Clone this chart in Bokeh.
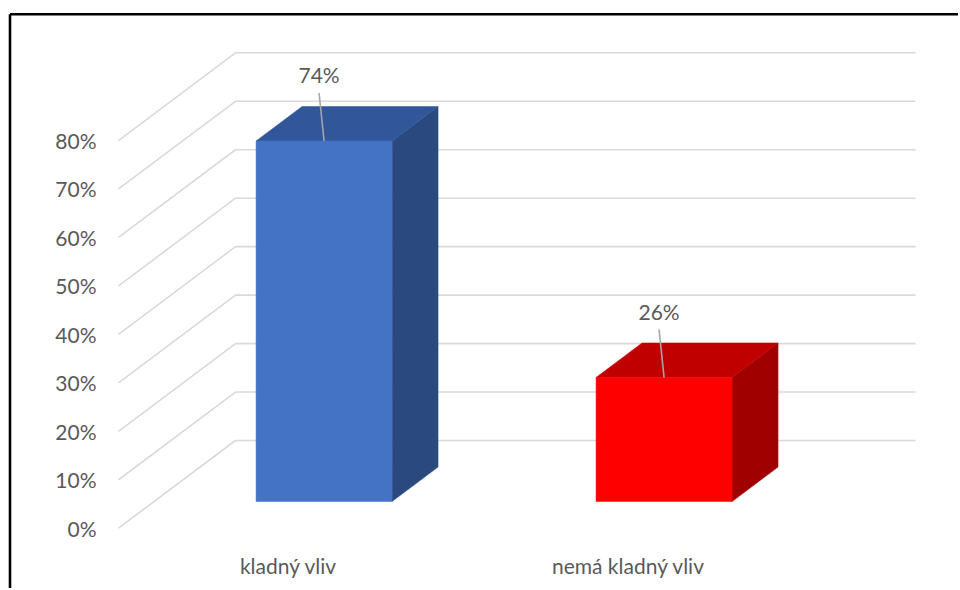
from bokeh.plotting import figure
from bokeh.models import Range1d
from bokeh.embed import file_html
from bokeh.resources import INLINE
from bokeh.core.properties import value

# ---------------- data ----------------
categories = ["kladný vliv", "nemá kladný vliv"]
values = [74.4, 25.6]
value_labels = ["74%", "26%"]
ticks = [0, 10, 20, 30, 40, 50, 60, 70, 80]
tick_labels = ["0%", "10%", "20%", "30%", "40%", "50%", "60%", "70%", "80%"]

front_colors = ["#4472C4", "#FF0000"]
top_colors = ["#31569A", "#C00000"]
side_colors = ["#2A4A7F", "#A00000"]

# ---------------- geometry / style ----------------
W, H = 958, 588
ORIGIN = 0       # page offset of the canvas
FX0 = 118.0      # page x of front-left floor corner
FY0 = 527.7      # page y of front 0%
CAT_PX = 340.0   # px per category
PCT_PX = 4.846   # px per percent
DEPTH_DX = 117.0
DEPTH_DY = 87.7
DX_U = DEPTH_DX / CAT_PX
DY_V = DEPTH_DY / PCT_PX
Z_FRONT, Z_BACK = 0.304, 0.697
HALF_W = 0.2
FONT = "Lato"
TXT = "#595959"
GRID = "#D9D9D9"


def px_u(dx):
    return dx / CAT_PX


def px_v(dy):
    return dy / PCT_PX


def proj(u, v, z):
    return u + z * DX_U, v + z * DY_V


x0 = (ORIGIN - FX0) / CAT_PX
x1 = (ORIGIN + W - FX0) / CAT_PX
y1 = (FY0 - ORIGIN) / PCT_PX
y0 = (FY0 - (ORIGIN + H)) / PCT_PX

p = figure(width=W, height=H, output_backend="svg", toolbar_location=None,
           x_range=Range1d(x0, x1), y_range=Range1d(y0, y1),
           min_border=0, x_axis_location=None, y_axis_location=None)
p.grid.visible = False
p.outline_line_color = None
p.background_fill_color = "white"
p.border_fill_color = "white"

# ---- gridlines: floor diagonals + back wall ----
n_cat = len(categories)
dxs, dys = [], []
for t in ticks:
    a = proj(0, t, 0)
    b = proj(0, t, 1)
    c = proj(n_cat, t, 1)
    dxs.append([a[0], b[0], c[0]])
    dys.append([a[1], b[1], c[1]])
p.multi_line(dxs, dys, line_color=GRID, line_width=1.6)

# ---- bars ----
for i, (val, cf, ct, cs) in enumerate(zip(values, front_colors, top_colors, side_colors)):
    c = i + 0.5
    l, r = c - HALF_W, c + HALF_W
    fl_b = proj(l, 0, Z_FRONT)
    fr_b = proj(r, 0, Z_FRONT)
    fl_t = proj(l, val, Z_FRONT)
    fr_t = proj(r, val, Z_FRONT)
    bl_t = proj(l, val, Z_BACK)
    br_t = proj(r, val, Z_BACK)
    br_b = proj(r, 0, Z_BACK)
    # side face
    p.patch([fr_b[0], fr_t[0], br_t[0], br_b[0]], [fr_b[1], fr_t[1], br_t[1], br_b[1]],
            fill_color=cs, line_color=cs, line_width=0.5)
    # top face
    p.patch([fl_t[0], fr_t[0], br_t[0], bl_t[0]], [fl_t[1], fr_t[1], br_t[1], bl_t[1]],
            fill_color=ct, line_color=ct, line_width=0.5)
    # front face
    p.quad(left=fl_b[0], right=fr_b[0], bottom=fl_b[1], top=fl_t[1],
           fill_color=cf, line_color=cf, line_width=0.5)
    # data label with leader line
    fc = proj(c, val, Z_FRONT)
    lx = fc[0] - px_u(5)
    ly = fc[1] + px_v(66)
    p.segment(x0=[fc[0]], y0=[fc[1]], x1=[lx], y1=[ly - px_v(18)],
              line_color="#A6A6A6", line_width=1.6)
    p.text(x=[lx], y=[ly], text=[value_labels[i]], text_align="center",
           text_baseline="middle", text_font=value(FONT), text_font_size="21px",
           text_color=TXT)

# ---- category labels ----
p.text(x=[i + 0.5 for i in range(n_cat)], y=[-px_v(37)] * n_cat, text=categories,
       text_align="center", text_baseline="alphabetic", text_font=value(FONT),
       text_font_size="21px", text_color=TXT)

# ---- value axis labels ----
p.text(x=[-px_u(22)] * len(ticks), y=ticks, text=tick_labels, text_align="right",
       text_baseline="middle", text_font=value(FONT), text_font_size="21px",
       text_color=TXT)

# ---- chart border (left & top) ----
bx = (9.5 - FX0) / CAT_PX
by = (FY0 - 13.8) / PCT_PX
p.segment(x0=[bx, bx], y0=[by, by], x1=[bx, x1 + 1], y1=[y0 - 5, by],
          line_color="black", line_width=2.6)

open("out.html", "w").write(file_html(p, INLINE))
